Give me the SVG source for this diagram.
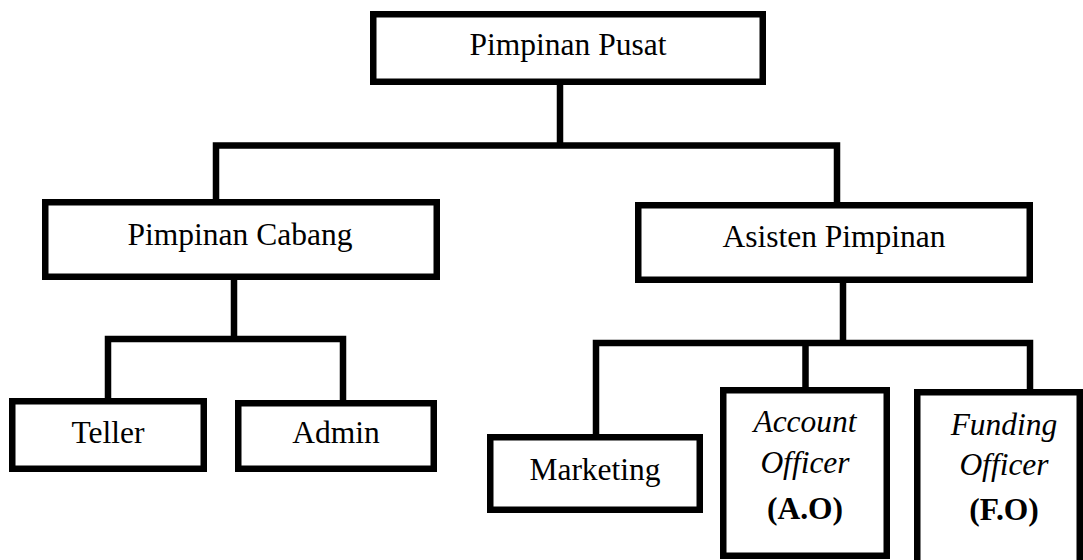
<svg xmlns="http://www.w3.org/2000/svg" width="1083" height="560" viewBox="0 0 1083 560">
<style>
.box{fill:#fff;stroke:#000;stroke-width:6.5}
.ln{fill:none;stroke:#000;stroke-width:6.5;stroke-linecap:square}
.t{font-family:"Liberation Serif","Times New Roman",serif;font-size:31.5px;fill:#000;text-anchor:middle}
.i{font-style:italic}
.b{font-weight:bold}
</style>
<rect width="1083" height="560" fill="#fff"/>
<g id="connectors">
<path class="ln" d="M560,85 V145.5 M216,145.5 H837 M216,145.5 V199 M837,145.5 V202"/>
<path class="ln" d="M234,280 V339 M108,339 H343 M108,339 V398 M343,339 V400"/>
<path class="ln" d="M843,283 V343 M596,343 H1030 M596,343 V434 M805.5,343 V387 M1030,343 V389"/>
</g>
<g id="pimpinan-pusat">
<rect class="box" x="373.25" y="14.25" width="389.5" height="67.5"/>
<text class="t" x="568" y="55">Pimpinan Pusat</text>
</g>
<g id="pimpinan-cabang">
<rect class="box" x="45.25" y="202.25" width="391.5" height="74.5"/>
<text class="t" x="240" y="245">Pimpinan Cabang</text>
</g>
<g id="asisten-pimpinan">
<rect class="box" x="638.25" y="205.25" width="391.5" height="74.5"/>
<text class="t" x="834" y="247">Asisten Pimpinan</text>
</g>
<g id="teller">
<rect class="box" x="12.25" y="401.25" width="191.5" height="67.5"/>
<text class="t" x="108" y="443">Teller</text>
</g>
<g id="admin">
<rect class="box" x="238.25" y="403.25" width="195.5" height="65.5"/>
<text class="t" x="336" y="443">Admin</text>
</g>
<g id="marketing">
<rect class="box" x="490.25" y="437.25" width="209.5" height="72.5"/>
<text class="t" x="595" y="480">Marketing</text>
</g>
<g id="account-officer">
<rect class="box" x="723.25" y="390.25" width="163.5" height="165.5"/>
<text class="t i" x="805" y="432">Account</text>
<text class="t i" x="805" y="473">Officer</text>
<text class="t b" x="805" y="519">(A.O)</text>
</g>
<g id="funding-officer">
<rect class="box" x="917.25" y="392.25" width="162.5" height="200"/>
<text class="t i" x="1004" y="435">Funding</text>
<text class="t i" x="1004" y="475">Officer</text>
<text class="t b" x="1004" y="520">(F.O)</text>
</g>
</svg>
